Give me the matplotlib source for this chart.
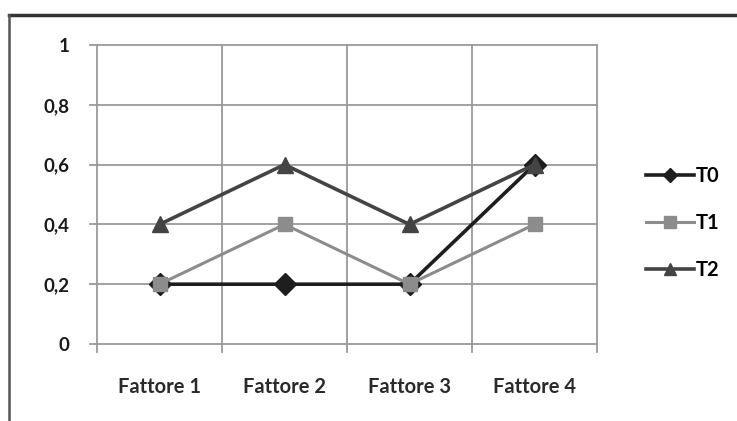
import matplotlib
matplotlib.use("Agg")
import matplotlib.pyplot as plt
from matplotlib.lines import Line2D

categories = ["Fattore 1", "Fattore 2", "Fattore 3", "Fattore 4"]
t0 = [0.2, 0.2, 0.2, 0.6]
t1 = [0.2, 0.4, 0.2, 0.4]
t2 = [0.4, 0.6, 0.4, 0.6]
y_ticks = [0, 0.2, 0.4, 0.6, 0.8, 1.0]
y_labels = ["0", "0,2", "0,4", "0,6", "0,8", "1"]

plt.rcParams["font.family"] = ["Lato", "DejaVu Sans"]

fig = plt.figure(figsize=(7.37, 4.21), dpi=100)
ax = fig.add_axes([97 / 737, 1 - 344 / 421, 500 / 737, 299 / 421])

x = list(range(len(categories)))
grid_col = "#9a9a9a"

# gridlines: horizontal at each tick, vertical between categories
for yv in y_ticks:
    ax.plot([-0.56, 3.5], [yv, yv], color=grid_col, lw=1.3, clip_on=False, zorder=1)
for b in [-0.5, 0.5, 1.5, 2.5, 3.5]:
    ax.plot([b, b], [-0.027, 1.0], color=grid_col, lw=1.3, clip_on=False, zorder=1)

ax.plot(x, t0, color="#1e1e1e", lw=2.6, marker="D", ms=11, zorder=3)
ax.plot(x, t1, color="#8c8c8c", lw=2.2, marker="s", ms=10, zorder=4)
ax.plot(x, t2, color="#444444", lw=2.6, marker="^", ms=11, zorder=5)

ax.set_xlim(-0.5, 3.5)
ax.set_ylim(0, 1)
for s in ax.spines.values():
    s.set_visible(False)
ax.set_xticks(x)
ax.set_xticklabels(categories, fontsize=14.5, color="#2a2a2a", fontweight="bold")
ax.set_yticks(y_ticks)
ax.set_yticklabels(y_labels, fontsize=13.5, color="#1a1a1a", fontweight="bold")
ax.tick_params(axis="x", length=0, pad=24)
ax.tick_params(axis="y", length=0, pad=20)

handles = [
    Line2D([], [], color="#1e1e1e", lw=2.6, marker="D", ms=7),
    Line2D([], [], color="#8c8c8c", lw=2.2, marker="s", ms=9),
    Line2D([], [], color="#444444", lw=2.6, marker="^", ms=9),
]
fig.legend(handles, ["T0", "T1", "T2"], loc="center left",
           bbox_to_anchor=(628 / 737, 1 - 223 / 421), frameon=False,
           handlelength=2.4, handletextpad=0.05, labelspacing=1.35,
           prop={"weight": "bold", "size": 14.5})

# outer chart frame
fig.add_artist(Line2D([9 / 737, 1], [1 - 15 / 421] * 2, color="#333333", lw=2.5))
fig.add_artist(Line2D([9 / 737] * 2, [0, 1 - 15 / 421], color="#555555", lw=1.8))

fig.savefig("out.png", dpi=100)
